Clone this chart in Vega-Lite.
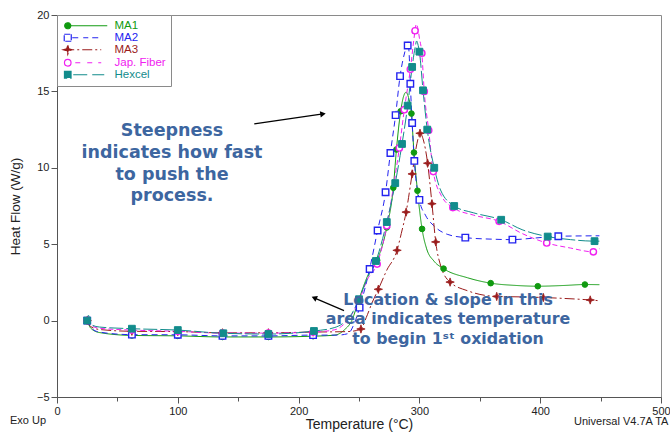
{
  "$schema": "https://vega.github.io/schema/vega-lite/v6.json",
  "width": 604,
  "height": 382,
  "autosize": "none",
  "padding": {"left": 57, "top": 15, "right": 9, "bottom": 35},
  "background": "white",
  "config": {
    "font": "Liberation Sans",
    "view": {"stroke": "#8a8a8a", "strokeWidth": 1},
    "axis": {
      "grid": false,
      "domainColor": "#555",
      "tickColor": "#555",
      "labelColor": "#222",
      "labelFontSize": 11,
      "labelFont": "Liberation Sans",
      "labelPadding": 2,
      "labelFlush": false,
      "labelOverlap": false,
      "labelBound": false,
      "titleFont": "Liberation Sans",
      "titleFontSize": 14,
      "titleFontWeight": "normal",
      "titleColor": "#222"
    },
    "legend": {
      "orient": "top-left",
      "offset": 0,
      "padding": 5,
      "strokeColor": "#8a8a8a",
      "fillColor": "white",
      "labelFont": "Liberation Sans",
      "labelFontSize": 11.5,
      "rowPadding": -2.6,
      "symbolSize": 81,
      "labelOffset": 41,
      "symbolStrokeWidth": 1.2,
      "symbolOpacity": 1
    }
  },
  "datasets": {
    "curves": [
      {"s":"MA1","t":25,"hf":0},{"s":"MA1","t":28,"hf":-0.5},{"s":"MA1","t":35,"hf":-0.78},{"s":"MA1","t":62,"hf":-0.97},{"s":"MA1","t":100,"hf":-1.0},{"s":"MA1","t":137,"hf":-1.07},{"s":"MA1","t":175,"hf":-1.07},{"s":"MA1","t":212,"hf":-1.02},{"s":"MA1","t":230,"hf":-0.95},{"s":"MA1","t":238,"hf":-0.6},{"s":"MA1","t":244,"hf":0.0},{"s":"MA1","t":250,"hf":1.4},{"s":"MA1","t":257,"hf":2.9},{"s":"MA1","t":265,"hf":3.95},{"s":"MA1","t":273,"hf":6.1},{"s":"MA1","t":278.4,"hf":8.7},{"s":"MA1","t":281,"hf":11.2},{"s":"MA1","t":284.5,"hf":13.7},{"s":"MA1","t":287,"hf":14.7},{"s":"MA1","t":289,"hf":14.95},{"s":"MA1","t":291,"hf":14.6},{"s":"MA1","t":293.4,"hf":13.55},{"s":"MA1","t":295.5,"hf":11.0},{"s":"MA1","t":298.4,"hf":8.5},{"s":"MA1","t":302.2,"hf":6.0},{"s":"MA1","t":306,"hf":4.7},{"s":"MA1","t":312,"hf":3.9},{"s":"MA1","t":320,"hf":3.4},{"s":"MA1","t":340,"hf":2.8},{"s":"MA1","t":359,"hf":2.45},{"s":"MA1","t":380,"hf":2.3},{"s":"MA1","t":398,"hf":2.25},{"s":"MA1","t":420,"hf":2.3},{"s":"MA1","t":437,"hf":2.36},{"s":"MA1","t":449,"hf":2.35},
      {"s":"MA2","t":25,"hf":0},{"s":"MA2","t":28,"hf":-0.45},{"s":"MA2","t":35,"hf":-0.75},{"s":"MA2","t":62,"hf":-0.92},{"s":"MA2","t":100,"hf":-0.93},{"s":"MA2","t":137,"hf":-1.0},{"s":"MA2","t":175,"hf":-1.0},{"s":"MA2","t":212,"hf":-0.95},{"s":"MA2","t":232,"hf":-0.95},{"s":"MA2","t":241,"hf":-0.85},{"s":"MA2","t":246,"hf":-0.2},{"s":"MA2","t":250.5,"hf":0.85},{"s":"MA2","t":258.8,"hf":3.38},{"s":"MA2","t":265.4,"hf":5.9},{"s":"MA2","t":272,"hf":8.4},{"s":"MA2","t":276,"hf":10.97},{"s":"MA2","t":280.3,"hf":13.45},{"s":"MA2","t":284,"hf":16.0},{"s":"MA2","t":288,"hf":17.6},{"s":"MA2","t":290.6,"hf":18.25},{"s":"MA2","t":291.4,"hf":17.6},{"s":"MA2","t":292.5,"hf":15.5},{"s":"MA2","t":294,"hf":12.93},{"s":"MA2","t":295.8,"hf":10.45},{"s":"MA2","t":300,"hf":7.9},{"s":"MA2","t":305,"hf":6.9},{"s":"MA2","t":312,"hf":6.2},{"s":"MA2","t":323,"hf":5.65},{"s":"MA2","t":338,"hf":5.43},{"s":"MA2","t":360,"hf":5.33},{"s":"MA2","t":377,"hf":5.3},{"s":"MA2","t":395,"hf":5.4},{"s":"MA2","t":415,"hf":5.52},{"s":"MA2","t":449,"hf":5.55},
      {"s":"MA3","t":25,"hf":0},{"s":"MA3","t":28,"hf":-0.4},{"s":"MA3","t":35,"hf":-0.58},{"s":"MA3","t":62,"hf":-0.7},{"s":"MA3","t":100,"hf":-0.72},{"s":"MA3","t":137,"hf":-0.8},{"s":"MA3","t":175,"hf":-0.8},{"s":"MA3","t":212,"hf":-0.75},{"s":"MA3","t":240,"hf":-0.72},{"s":"MA3","t":248,"hf":-0.65},{"s":"MA3","t":251.6,"hf":-0.55},{"s":"MA3","t":256,"hf":0.2},{"s":"MA3","t":261,"hf":1.2},{"s":"MA3","t":266,"hf":2.05},{"s":"MA3","t":273,"hf":3.3},{"s":"MA3","t":281.5,"hf":4.6},{"s":"MA3","t":285,"hf":5.7},{"s":"MA3","t":289,"hf":7.1},{"s":"MA3","t":294,"hf":9.6},{"s":"MA3","t":298,"hf":11.6},{"s":"MA3","t":300.5,"hf":12.26},{"s":"MA3","t":303,"hf":11.9},{"s":"MA3","t":306.8,"hf":10.3},{"s":"MA3","t":310.4,"hf":7.65},{"s":"MA3","t":313.5,"hf":5.15},{"s":"MA3","t":318,"hf":3.5},{"s":"MA3","t":325.4,"hf":2.52},{"s":"MA3","t":340,"hf":1.95},{"s":"MA3","t":364,"hf":1.58},{"s":"MA3","t":385,"hf":1.55},{"s":"MA3","t":402.6,"hf":1.51},{"s":"MA3","t":420,"hf":1.45},{"s":"MA3","t":441.4,"hf":1.35},{"s":"MA3","t":449,"hf":1.3},
      {"s":"Jap. Fiber","t":25,"hf":0},{"s":"Jap. Fiber","t":28,"hf":-0.3},{"s":"Jap. Fiber","t":35,"hf":-0.5},{"s":"Jap. Fiber","t":62,"hf":-0.62},{"s":"Jap. Fiber","t":100,"hf":-0.7},{"s":"Jap. Fiber","t":137,"hf":-0.82},{"s":"Jap. Fiber","t":175,"hf":-0.82},{"s":"Jap. Fiber","t":212,"hf":-0.75},{"s":"Jap. Fiber","t":230,"hf":-0.6},{"s":"Jap. Fiber","t":238,"hf":-0.2},{"s":"Jap. Fiber","t":244,"hf":0.4},{"s":"Jap. Fiber","t":250,"hf":1.3},{"s":"Jap. Fiber","t":257,"hf":2.7},{"s":"Jap. Fiber","t":265,"hf":3.7},{"s":"Jap. Fiber","t":273,"hf":6.2},{"s":"Jap. Fiber","t":279,"hf":9.0},{"s":"Jap. Fiber","t":283.4,"hf":11.3},{"s":"Jap. Fiber","t":287.5,"hf":13.8},{"s":"Jap. Fiber","t":292.5,"hf":16.45},{"s":"Jap. Fiber","t":296.4,"hf":18.97},{"s":"Jap. Fiber","t":297.3,"hf":19.4},{"s":"Jap. Fiber","t":298.5,"hf":19.2},{"s":"Jap. Fiber","t":300,"hf":18.5},{"s":"Jap. Fiber","t":302,"hf":17.5},{"s":"Jap. Fiber","t":304,"hf":15.0},{"s":"Jap. Fiber","t":307.7,"hf":12.45},{"s":"Jap. Fiber","t":311.5,"hf":9.75},{"s":"Jap. Fiber","t":318,"hf":8.2},{"s":"Jap. Fiber","t":327.7,"hf":7.4},{"s":"Jap. Fiber","t":345,"hf":6.9},{"s":"Jap. Fiber","t":366,"hf":6.5},{"s":"Jap. Fiber","t":385,"hf":5.7},{"s":"Jap. Fiber","t":405.4,"hf":5.08},{"s":"Jap. Fiber","t":425,"hf":4.75},{"s":"Jap. Fiber","t":444,"hf":4.5},{"s":"Jap. Fiber","t":449,"hf":4.7},
      {"s":"Hexcel","t":25,"hf":0},{"s":"Hexcel","t":26,"hf":0.35},{"s":"Hexcel","t":28,"hf":-0.25},{"s":"Hexcel","t":35,"hf":-0.42},{"s":"Hexcel","t":62,"hf":-0.53},{"s":"Hexcel","t":100,"hf":-0.62},{"s":"Hexcel","t":137.7,"hf":-0.83},{"s":"Hexcel","t":175,"hf":-0.88},{"s":"Hexcel","t":212.7,"hf":-0.68},{"s":"Hexcel","t":230,"hf":-0.45},{"s":"Hexcel","t":238,"hf":-0.1},{"s":"Hexcel","t":244,"hf":0.45},{"s":"Hexcel","t":250,"hf":1.4},{"s":"Hexcel","t":257,"hf":2.8},{"s":"Hexcel","t":264,"hf":3.9},{"s":"Hexcel","t":273,"hf":6.45},{"s":"Hexcel","t":280,"hf":9.0},{"s":"Hexcel","t":285.6,"hf":11.56},{"s":"Hexcel","t":290.3,"hf":14.07},{"s":"Hexcel","t":294,"hf":16.6},{"s":"Hexcel","t":296.5,"hf":17.9},{"s":"Hexcel","t":297.7,"hf":18.3},{"s":"Hexcel","t":299,"hf":18.0},{"s":"Hexcel","t":300,"hf":17.6},{"s":"Hexcel","t":303,"hf":15.07},{"s":"Hexcel","t":306.5,"hf":12.5},{"s":"Hexcel","t":312.3,"hf":10.0},{"s":"Hexcel","t":317.5,"hf":8.55},{"s":"Hexcel","t":328.8,"hf":7.5},{"s":"Hexcel","t":345,"hf":7.05},{"s":"Hexcel","t":367.7,"hf":6.6},{"s":"Hexcel","t":385,"hf":5.95},{"s":"Hexcel","t":406.2,"hf":5.5},{"s":"Hexcel","t":425,"hf":5.3},{"s":"Hexcel","t":445,"hf":5.2},{"s":"Hexcel","t":449,"hf":5.2}
    ],
    "markers": [
      {"s":"MA1","t":25,"hf":0},{"s":"MA1","t":62,"hf":-0.97},{"s":"MA1","t":100,"hf":-1.0},{"s":"MA1","t":137,"hf":-1.07},{"s":"MA1","t":175,"hf":-1.07},{"s":"MA1","t":212,"hf":-1.02},{"s":"MA1","t":250,"hf":1.4},{"s":"MA1","t":265,"hf":3.95},{"s":"MA1","t":273,"hf":6.1},{"s":"MA1","t":278.4,"hf":8.7},{"s":"MA1","t":281,"hf":11.2},{"s":"MA1","t":284.5,"hf":13.7},{"s":"MA1","t":293.4,"hf":13.55},{"s":"MA1","t":295.5,"hf":11.0},{"s":"MA1","t":298.4,"hf":8.5},{"s":"MA1","t":302.2,"hf":6.0},{"s":"MA1","t":320,"hf":3.4},{"s":"MA1","t":359,"hf":2.45},{"s":"MA1","t":398,"hf":2.25},{"s":"MA1","t":437,"hf":2.36},
      {"s":"MA2","t":25,"hf":0},{"s":"MA2","t":62,"hf":-0.92},{"s":"MA2","t":100,"hf":-0.93},{"s":"MA2","t":137,"hf":-1.0},{"s":"MA2","t":175,"hf":-1.0},{"s":"MA2","t":212,"hf":-0.95},{"s":"MA2","t":250.5,"hf":0.85},{"s":"MA2","t":258.8,"hf":3.38},{"s":"MA2","t":265.4,"hf":5.9},{"s":"MA2","t":272,"hf":8.4},{"s":"MA2","t":276,"hf":10.97},{"s":"MA2","t":280.3,"hf":13.45},{"s":"MA2","t":284,"hf":16.0},{"s":"MA2","t":290.3,"hf":18.0},{"s":"MA2","t":292.5,"hf":15.5},{"s":"MA2","t":294,"hf":12.93},{"s":"MA2","t":295.8,"hf":10.45},{"s":"MA2","t":300,"hf":7.9},{"s":"MA2","t":338,"hf":5.43},{"s":"MA2","t":377,"hf":5.3},{"s":"MA2","t":415,"hf":5.52},
      {"s":"MA3","t":25,"hf":0},{"s":"MA3","t":62,"hf":-0.7},{"s":"MA3","t":100,"hf":-0.72},{"s":"MA3","t":137,"hf":-0.8},{"s":"MA3","t":175,"hf":-0.8},{"s":"MA3","t":212,"hf":-0.75},{"s":"MA3","t":251.6,"hf":-0.55},{"s":"MA3","t":266,"hf":2.05},{"s":"MA3","t":281.5,"hf":4.6},{"s":"MA3","t":289,"hf":7.1},{"s":"MA3","t":294,"hf":9.6},{"s":"MA3","t":300.5,"hf":12.26},{"s":"MA3","t":306.8,"hf":10.3},{"s":"MA3","t":310.4,"hf":7.65},{"s":"MA3","t":313.5,"hf":5.15},{"s":"MA3","t":325.4,"hf":2.52},{"s":"MA3","t":364,"hf":1.58},{"s":"MA3","t":402.6,"hf":1.51},{"s":"MA3","t":441.4,"hf":1.35},
      {"s":"Jap. Fiber","t":25,"hf":0},{"s":"Jap. Fiber","t":62,"hf":-0.62},{"s":"Jap. Fiber","t":100,"hf":-0.7},{"s":"Jap. Fiber","t":137,"hf":-0.82},{"s":"Jap. Fiber","t":175,"hf":-0.82},{"s":"Jap. Fiber","t":212,"hf":-0.75},{"s":"Jap. Fiber","t":265,"hf":3.7},{"s":"Jap. Fiber","t":273,"hf":6.2},{"s":"Jap. Fiber","t":283.4,"hf":11.3},{"s":"Jap. Fiber","t":287.5,"hf":13.8},{"s":"Jap. Fiber","t":292.5,"hf":16.45},{"s":"Jap. Fiber","t":296.4,"hf":18.97},{"s":"Jap. Fiber","t":302,"hf":17.5},{"s":"Jap. Fiber","t":304,"hf":15.0},{"s":"Jap. Fiber","t":307.7,"hf":12.45},{"s":"Jap. Fiber","t":311.5,"hf":9.75},{"s":"Jap. Fiber","t":327.7,"hf":7.4},{"s":"Jap. Fiber","t":366,"hf":6.5},{"s":"Jap. Fiber","t":405.4,"hf":5.08},{"s":"Jap. Fiber","t":444,"hf":4.5},
      {"s":"Hexcel","t":25,"hf":0},{"s":"Hexcel","t":62,"hf":-0.53},{"s":"Hexcel","t":100,"hf":-0.62},{"s":"Hexcel","t":137.7,"hf":-0.83},{"s":"Hexcel","t":175,"hf":-0.88},{"s":"Hexcel","t":212.7,"hf":-0.68},{"s":"Hexcel","t":250,"hf":1.4},{"s":"Hexcel","t":264,"hf":3.9},{"s":"Hexcel","t":273,"hf":6.45},{"s":"Hexcel","t":280,"hf":9.0},{"s":"Hexcel","t":285.6,"hf":11.56},{"s":"Hexcel","t":290.3,"hf":14.07},{"s":"Hexcel","t":294,"hf":16.6},{"s":"Hexcel","t":300,"hf":17.6},{"s":"Hexcel","t":303,"hf":15.07},{"s":"Hexcel","t":306.5,"hf":12.5},{"s":"Hexcel","t":312.3,"hf":10.0},{"s":"Hexcel","t":328.8,"hf":7.5},{"s":"Hexcel","t":367.7,"hf":6.6},{"s":"Hexcel","t":406.2,"hf":5.5},{"s":"Hexcel","t":445,"hf":5.2}
    ]
  },
  "layer": [
    {
      "data": {"name": "curves"},
      "mark": {"type": "line", "interpolate": "monotone", "strokeWidth": 1},
      "encoding": {
        "x": {
          "field": "t", "type": "quantitative",
          "scale": {"domain": [0, 500], "nice": false, "zero": false},
          "axis": {
            "title": "Temperature (°C)",
            "values": [0,25,50,75,100,125,150,175,200,225,250,275,300,325,350,375,400,425,450,475,500],
            "labelExpr": "datum.value % 100 === 0 ? datum.label : ''",
            "tickSize": {"condition": {"test": "datum.value % 100 === 0", "value": 6}, "value": 4},
            "titlePadding": 1
          }
        },
        "y": {
          "field": "hf", "type": "quantitative",
          "scale": {"domain": [-5, 20], "nice": false, "zero": false},
          "axis": {
            "title": "Heat Flow (W/g)",
            "values": [-5,-3.75,-2.5,-1.25,0,1.25,2.5,3.75,5,6.25,7.5,8.75,10,11.25,12.5,13.75,15,16.25,17.5,18.75,20],
            "labelExpr": "datum.value % 5 === 0 ? datum.label : ''",
            "tickSize": {"condition": {"test": "datum.value % 5 === 0", "value": 6}, "value": 4},
            "titleFontSize": 13.5,
            "titlePadding": 14
          }
        },
        "color": {
          "field": "s", "type": "nominal",
          "scale": {
            "domain": ["MA1", "MA2", "MA3", "Jap. Fiber", "Hexcel"],
            "range": ["#109a10", "#2424f0", "#9a1c1c", "#f020f0", "#128c8c"]
          },
          "legend": {
            "title": null,
            "encode": {
              "labels": {"update": {"fill": {"scale": "color", "field": "value"}}}
            }
          }
        },
        "strokeDash": {
          "field": "s", "type": "nominal",
          "scale": {
            "domain": ["MA1", "MA2", "MA3", "Jap. Fiber", "Hexcel"],
            "range": [[1, 0], [6, 4], [10, 3, 2, 3], [5, 3], [14, 3]]
          },
          "legend": null
        }
      }
    },
    {
      "data": {"name": "markers"},
      "transform": [{"filter": "false"}],
      "mark": {"type": "point", "filled": false, "opacity": 1, "strokeWidth": 1.2},
      "encoding": {
        "x": {"field": "t", "type": "quantitative"},
        "y": {"field": "hf", "type": "quantitative"},
        "color": {"field": "s", "type": "nominal"},
        "shape": {
          "field": "s", "type": "nominal",
          "scale": {
            "domain": ["MA1", "MA2", "MA3", "Jap. Fiber", "Hexcel"],
            "range": [
              "M-0.67,0A0.67,0.67 0 1,0 0.67,0A0.67,0.67 0 1,0 -0.67,0Z M-0.78,0H8.78",
              "M-0.78,-0.78H0.78 M0.78,-0.78V0.78 M0.78,0.78H-0.78 M-0.78,0.78V-0.78 M1.0,0H2.33 M3.44,0H4.56 M5.44,0H6.78",
              "M0,-1L0.22,-0.22L1,0L0.22,0.22L0,1L-0.22,0.22L-1,0L-0.22,-0.22Z M-0.78,0H6.56 M7.22,0H7.44",
              "M-0.73,0A0.73,0.73 0 0,1 0,-0.73 M0,-0.73A0.73,0.73 0 0,1 0.73,0 M0.73,0A0.73,0.73 0 0,1 0,0.73 M0,0.73A0.73,0.73 0 0,1 -0.73,0 M1.67,0H3.44 M4.33,0H5.89 M6.78,0H7.44",
              "M-0.73,-0.73H0.73V0.73H-0.73Z M1.22,0H4.56 M5.44,0H8.11"
            ]
          },
          "legend": null
        },
        "fill": {
          "field": "s", "type": "nominal",
          "scale": {
            "domain": ["MA1", "MA2", "MA3", "Jap. Fiber", "Hexcel"],
            "range": ["#109a10", "white", "#9a1c1c", "white", "#128c8c"]
          },
          "legend": null
        }
      }
    },
    {
      "data": {"name": "markers"},
      "transform": [{"filter": "datum.s === 'MA1'"}],
      "mark": {"type": "point", "shape": "circle", "size": 32, "filled": true, "fill": "#109a10", "stroke": "#109a10", "strokeWidth": 1, "opacity": 1},
      "encoding": {"x": {"field": "t", "type": "quantitative"}, "y": {"field": "hf", "type": "quantitative"}}
    },
    {
      "data": {"name": "markers"},
      "transform": [{"filter": "datum.s === 'MA2'"}],
      "mark": {"type": "point", "shape": "square", "size": 42, "filled": false, "fill": "white", "stroke": "#2424f0", "strokeWidth": 1.4, "opacity": 1},
      "encoding": {"x": {"field": "t", "type": "quantitative"}, "y": {"field": "hf", "type": "quantitative"}}
    },
    {
      "data": {"name": "markers"},
      "transform": [{"filter": "datum.s === 'MA3'"}],
      "mark": {"type": "point", "shape": "M0,-1L0.25,-0.25L1,0L0.25,0.25L0,1L-0.25,0.25L-1,0L-0.25,-0.25Z", "size": 70, "filled": true, "fill": "#9a1c1c", "stroke": "#9a1c1c", "strokeWidth": 0.8, "opacity": 1},
      "encoding": {"x": {"field": "t", "type": "quantitative"}, "y": {"field": "hf", "type": "quantitative"}}
    },
    {
      "data": {"name": "markers"},
      "transform": [{"filter": "datum.s === 'Jap. Fiber'"}],
      "mark": {"type": "point", "shape": "circle", "size": 40, "filled": false, "fill": "white", "stroke": "#f020f0", "strokeWidth": 1.4, "opacity": 1},
      "encoding": {"x": {"field": "t", "type": "quantitative"}, "y": {"field": "hf", "type": "quantitative"}}
    },
    {
      "data": {"name": "markers"},
      "transform": [{"filter": "datum.s === 'Hexcel'"}],
      "mark": {"type": "point", "shape": "square", "size": 46, "filled": true, "fill": "#128c8c", "stroke": "#128c8c", "strokeWidth": 1, "opacity": 1},
      "encoding": {"x": {"field": "t", "type": "quantitative"}, "y": {"field": "hf", "type": "quantitative"}}
    },
    {
      "data": {"values": [{}]},
      "mark": {"type": "text", "text": ["Steepness", "indicates how fast", "to push the", "process."], "align": "center", "baseline": "middle", "font": "DejaVu Sans", "fontWeight": "bold", "fontSize": 17.5, "lineHeight": 21.8, "color": "#3d66a0"},
      "encoding": {"x": {"datum": 95.2}, "y": {"datum": 12.41}}
    },
    {
      "data": {"values": [{}]},
      "mark": {"type": "text", "text": ["Location & slope in this", "area indicates temperature", "to begin 1ˢᵗ oxidation"], "align": "center", "baseline": "middle", "font": "DejaVu Sans", "fontWeight": "bold", "fontSize": 15.8, "lineHeight": 19.5, "color": "#3d66a0"},
      "encoding": {"x": {"datum": 323.7}, "y": {"datum": 1.35}}
    },
    {
      "data": {"values": [{}]},
      "mark": {"type": "rule", "color": "black", "strokeWidth": 1.2},
      "encoding": {"x": {"datum": 163.3}, "y": {"datum": 12.87}, "x2": {"datum": 220.2}, "y2": {"datum": 13.53}}
    },
    {
      "data": {"values": [{}]},
      "mark": {"type": "point", "shape": "triangle-right", "filled": true, "color": "black", "opacity": 1, "size": 40, "angle": 351.6},
      "encoding": {"x": {"datum": 220.2}, "y": {"datum": 13.53}}
    },
    {
      "data": {"values": [{}]},
      "mark": {"type": "rule", "color": "black", "strokeWidth": 1.2},
      "encoding": {"x": {"datum": 237.6}, "y": {"datum": 0.65}, "x2": {"datum": 212.9}, "y2": {"datum": 1.49}}
    },
    {
      "data": {"values": [{}]},
      "mark": {"type": "point", "shape": "triangle-right", "filled": true, "color": "black", "opacity": 1, "size": 40, "angle": 203.4},
      "encoding": {"x": {"datum": 212.9}, "y": {"datum": 1.49}}
    },
    {
      "data": {"values": [{}]},
      "mark": {"type": "text", "text": "Exo Up", "align": "left", "baseline": "middle", "font": "Liberation Sans", "fontSize": 11, "color": "#222"},
      "encoding": {"x": {"datum": -38.9}, "y": {"datum": -6.57}}
    },
    {
      "data": {"values": [{}]},
      "mark": {"type": "text", "text": "Universal V4.7A TA Instruments", "align": "left", "baseline": "middle", "font": "Liberation Sans", "fontSize": 11, "color": "#222"},
      "encoding": {"x": {"datum": 428}, "y": {"datum": -6.65}}
    }
  ]
}
